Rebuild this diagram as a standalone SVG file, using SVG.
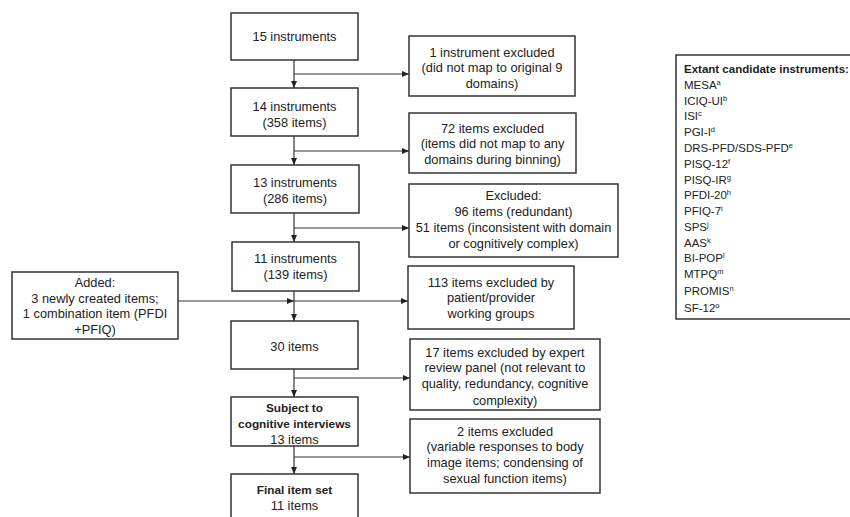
<svg xmlns="http://www.w3.org/2000/svg" width="850" height="517" viewBox="0 0 850 517">
<style>
.b{fill:#fff;stroke:#333;stroke-width:1.5}
text{font-family:"Liberation Sans",Arial,sans-serif;font-size:12.8px;fill:#222;text-anchor:middle}
.bold{font-weight:bold;font-size:11.8px}
.l text{text-anchor:start;font-size:11.5px}
.l text.bold{font-size:11.5px}
.c{stroke:#333;stroke-width:1.2;fill:none}
.s{font-size:7.5px}
</style>
<defs>
<marker id="ah" markerWidth="7" markerHeight="6" refX="7" refY="3" orient="auto" markerUnits="userSpaceOnUse">
<path d="M0,0 L7,3 L0,6 Z" fill="#222"/>
</marker>
</defs>
<rect width="850" height="517" fill="#fff"/>
<g id="connectors">
<path class="c" d="M294,60 V88" marker-end="url(#ah)"/>
<path class="c" d="M294,74 H409" marker-end="url(#ah)"/>
<path class="c" d="M294,136 V165" marker-end="url(#ah)"/>
<path class="c" d="M294,151 H409" marker-end="url(#ah)"/>
<path class="c" d="M294,213 V242" marker-end="url(#ah)"/>
<path class="c" d="M294,228 H409" marker-end="url(#ah)"/>
<path class="c" d="M294,291 V321" marker-end="url(#ah)"/>
<path class="c" d="M178,301 H294" marker-end="url(#ah)"/>
<path class="c" d="M294,301 H408" marker-end="url(#ah)"/>
<path class="c" d="M294,369 V397" marker-end="url(#ah)"/>
<path class="c" d="M294,378 H410" marker-end="url(#ah)"/>
<path class="c" d="M294,446 V474" marker-end="url(#ah)"/>
<path class="c" d="M294,457 H410" marker-end="url(#ah)"/>
</g>
<g id="n1"><rect class="b" x="231" y="13" width="127" height="47"/><text x="294.5" y="40.5">15 instruments</text></g>
<g id="n2"><rect class="b" x="231" y="88" width="127" height="48"/><text x="294.5" y="110.5">14 instruments</text><text x="294.5" y="126.5">(358 items)</text></g>
<g id="n3"><rect class="b" x="231" y="165" width="128" height="48"/><text x="295" y="186.5">13 instruments</text><text x="295" y="202.5">(286 items)</text></g>
<g id="n4"><rect class="b" x="232" y="242" width="127" height="49"/><text x="295.5" y="262.5">11 instruments</text><text x="295.5" y="279">(139 items)</text></g>
<g id="n5"><rect class="b" x="231" y="321" width="127" height="48"/><text x="294.5" y="350.5">30 items</text></g>
<g id="n6"><rect class="b" x="231" y="397" width="127" height="49"/><text class="bold" x="294.5" y="411.5">Subject to</text><text class="bold" x="294.5" y="427.5">cognitive interviews</text><text x="294.5" y="443.5">13 items</text></g>
<g id="n7"><rect class="b" x="231" y="474" width="127" height="60"/><text class="bold" x="294.5" y="493.5">Final item set</text><text x="294.5" y="509.5">11 items</text></g>
<g id="added"><rect class="b" x="12" y="272" width="166" height="67"/><text x="95" y="286.5">Added:</text><text x="95" y="302.5">3 newly created items;</text><text x="95" y="318">1 combination item (PFDI</text><text x="95" y="333.5">+PFIQ)</text></g>
<g id="r1"><rect class="b" x="409" y="36" width="166" height="60"/><text x="492" y="57">1 instrument excluded</text><text x="492" y="72">(did not map to original 9</text><text x="492" y="87.5">domains)</text></g>
<g id="r2"><rect class="b" x="409" y="113" width="167" height="60"/><text x="492.5" y="132.5">72 items excluded</text><text x="492.5" y="148">(items did not map to any</text><text x="492.5" y="163.5">domains during binning)</text></g>
<g id="r3"><rect class="b" x="409" y="184" width="209" height="73"/><text x="513.5" y="199.5">Excluded:</text><text x="513.5" y="215.5">96 items (redundant)</text><text x="513.5" y="231.5">51 items (inconsistent with domain</text><text x="513.5" y="248">or cognitively complex)</text></g>
<g id="r4"><rect class="b" x="408" y="266" width="166" height="63"/><text x="491" y="286.5">113 items excluded by</text><text x="491" y="301.5">patient/provider</text><text x="491" y="317.5">working groups</text></g>
<g id="r5"><rect class="b" x="410" y="339" width="190" height="71"/><text x="505" y="356.5">17 items excluded by expert</text><text x="505" y="372">review panel (not relevant to</text><text x="505" y="388">quality, redundancy, cognitive</text><text x="505" y="405">complexity)</text></g>
<g id="r6"><rect class="b" x="410" y="419" width="190" height="74"/><text x="505" y="435.5">2 items excluded</text><text x="505" y="451">(variable responses to body</text><text x="505" y="467">image items; condensing of</text><text x="505" y="482.5">sexual function items)</text></g>
<g id="legend" class="l"><rect class="b" x="676" y="55" width="190" height="264"/>
<text class="bold" x="684" y="73">Extant candidate instruments:</text>
<text x="684" y="88.5">MESA<tspan class="s" dy="-4">a</tspan></text>
<text x="684" y="104.5">ICIQ-UI<tspan class="s" dy="-4">b</tspan></text>
<text x="684" y="120">ISI<tspan class="s" dy="-4">c</tspan></text>
<text x="684" y="136">PGI-I<tspan class="s" dy="-4">d</tspan></text>
<text x="684" y="152">DRS-PFD/SDS-PFD<tspan class="s" dy="-4">e</tspan></text>
<text x="684" y="167.5">PISQ-12<tspan class="s" dy="-4">f</tspan></text>
<text x="684" y="183.5">PISQ-IR<tspan class="s" dy="-4">g</tspan></text>
<text x="684" y="199">PFDI-20<tspan class="s" dy="-4">h</tspan></text>
<text x="684" y="215">PFIQ-7<tspan class="s" dy="-4">i</tspan></text>
<text x="684" y="230.5">SPS<tspan class="s" dy="-4">j</tspan></text>
<text x="684" y="247">AAS<tspan class="s" dy="-4">k</tspan></text>
<text x="684" y="262">BI-POP<tspan class="s" dy="-4">l</tspan></text>
<text x="684" y="278">MTPQ<tspan class="s" dy="-4">m</tspan></text>
<text x="684" y="294.5">PROMIS<tspan class="s" dy="-4">n</tspan></text>
<text x="684" y="312">SF-12<tspan class="s" dy="-4">o</tspan></text>
</g>
</svg>
